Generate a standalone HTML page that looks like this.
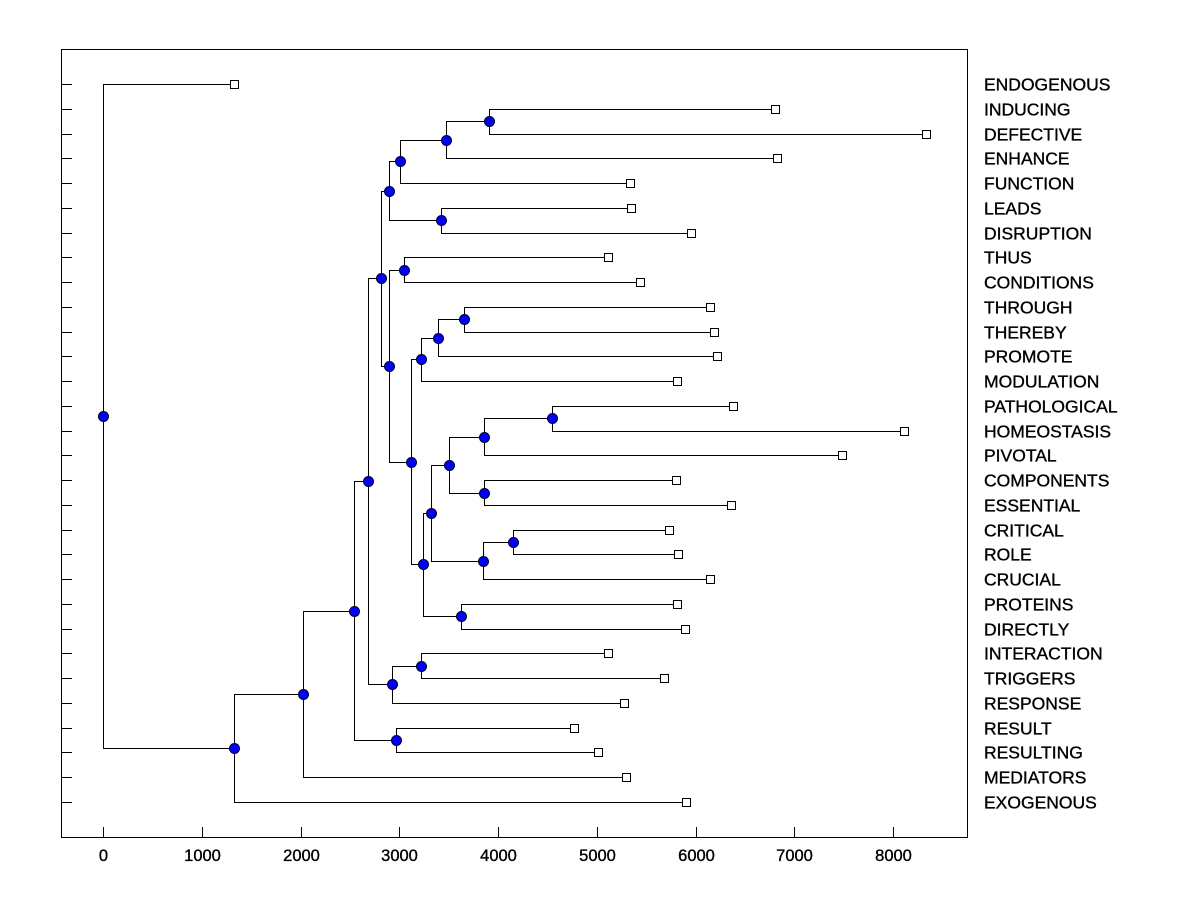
<!DOCTYPE html>
<html><head><meta charset="utf-8"><style>
html,body{margin:0;padding:0;background:#fff;}
svg{display:block;font-family:"Liberation Sans",Arial,sans-serif;}
</style></head><body>
<svg id="chart" width="1200" height="900" xmlns="http://www.w3.org/2000/svg">
<rect x="0" y="0" width="1200" height="900" fill="#fff"/>
<rect x="61.5" y="49.5" width="906" height="788" fill="none" stroke="#000" stroke-width="1"/>
<g id="ticks"></g>
<g id="links"></g>
<g id="nodes"></g>
<g id="labels"></g>
</svg>
<script>
const leafNames = ["ENDOGENOUS","INDUCING","DEFECTIVE","ENHANCE","FUNCTION","LEADS","DISRUPTION","THUS","CONDITIONS","THROUGH","THEREBY","PROMOTE","MODULATION","PATHOLOGICAL","HOMEOSTASIS","PIVOTAL","COMPONENTS","ESSENTIAL","CRITICAL","ROLE","CRUCIAL","PROTEINS","DIRECTLY","INTERACTION","TRIGGERS","RESPONSE","RESULT","RESULTING","MEDIATORS","EXOGENOUS"];
const leafValues = [1327,6805,8334,6825,5337,5347,5954,5114,5438,6147,6187,6218,5813,6380,8111,7484,5803,6359,5732,5823,6147,5813,5894,5114,5681,5276,4770,5013,5296,5904];
// internal nodes: [name, value, childA, childB]; child = leaf index (number) or node name (string)
const nodeNames = ["A","B","C","D","E","F","H","I","J","K","L","M","N","O","P","Q","R","S","T","X","G","V","W","Y","Z","AA","BB","CC","ROOT"];
const nodeValues = [3909,3473,3008,3423,2896,3048,3656,3392,3220,4547,3858,3858,3504,4152,3848,3322,3625,3240,3119,2896,2815,3220,2927,2684,2967,2542,2025,1327,0];
const nodeChildren = [[1,2],["A",3],["B",4],[5,6],["C","D"],[7,8],[9,10],["H",11],["I",12],[13,14],["K",15],[16,17],["L","M"],[18,19],["O",20],["N","P"],[21,22],["Q","R"],["J","S"],["F","T"],["E","X"],[23,24],["V",25],["G","W"],[26,27],["Y","Z"],["AA",28],["BB",29],[0,"CC"]];
const xTicks = [0,1000,2000,3000,4000,5000,6000,7000,8000];

const NS="http://www.w3.org/2000/svg";
const xs = v => 103 + v*0.09875;
const ys = i => 84 + i*(802-84)/29;
function mk(tag, attrs, parent){const e=document.createElementNS(NS,tag);for(const k in attrs)e.setAttribute(k,attrs[k]);parent.appendChild(e);return e;}
const gT=document.getElementById('ticks'),gL=document.getElementById('links'),gN=document.getElementById('nodes'),gLab=document.getElementById('labels');

xTicks.forEach(t=>{
  const x=Math.round(xs(t))+0.5;
  const l=mk('line',{x1:x,x2:x,y1:827,y2:837,stroke:'#000'},gT);
  
  
  const tx=mk('text',{x:x,y:861,'text-anchor':'middle','font-size':'16.5',fill:'#000',stroke:'#000','stroke-width':'0.35'},gT);
  tx.textContent=t;
  
  
});
leafNames.forEach((n,i)=>{
  const y=Math.round(ys(i))+0.5;
  const l=mk('line',{x1:62,x2:72,y1:y,y2:y,stroke:'#000'},gT);
  
  
  const tx=mk('text',{x:984,y:y+6,'font-size':'17.5',fill:'#000',stroke:'#000','stroke-width':'0.35'},gLab);
  tx.textContent=n;
  
  
});

const pos={};
leafNames.forEach((n,i)=>{pos[i]={x:xs(leafValues[i]),y:ys(i)};});
nodeNames.forEach((n,k)=>{
  const [a,b]=nodeChildren[k];
  const pa=pos[a],pb=pos[b];
  pos[n]={x:xs(nodeValues[k]),y:(pa.y+pb.y)/2};
});
nodeNames.forEach((n,k)=>{
  const p=pos[n];
  const [a,b]=nodeChildren[k];
  const pa=pos[a],pb=pos[b];
  const px=Math.round(p.x)+0.5;
  const d=`M${Math.round(pa.x)+0.5},${Math.round(pa.y)+0.5} H${px} V${Math.round(pb.y)+0.5} H${Math.round(pb.x)+0.5}`;
  const path=mk('path',{d:d,fill:'none',stroke:'#000','stroke-width':1},gL);
  
  
});
leafNames.forEach((n,i)=>{
  const p=pos[i];
  const r=mk('rect',{x:Math.round(p.x)-3.5,y:Math.round(p.y)-3.5,width:8,height:8,fill:'#fff',stroke:'#000'},gN);
  
  
});
nodeNames.forEach(n=>{
  const p=pos[n];
  const c=mk('circle',{cx:Math.round(p.x)+0.5,cy:Math.round(p.y)+0.5,r:5,fill:'#0000ff',stroke:'#000020','stroke-width':1},gN);
  
  
});
</script>
</body></html>
